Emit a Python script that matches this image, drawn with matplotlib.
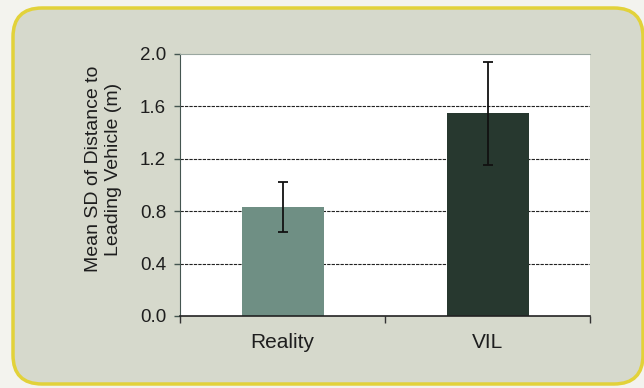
import numpy as np
import matplotlib
matplotlib.use("Agg")
import matplotlib.pyplot as plt
from matplotlib.patches import FancyBboxPatch

plt.rcParams['font.family'] = ['Liberation Sans', 'DejaVu Sans']

# mean SD of distance to the leading vehicle, with error bar ends
conditions = ['Reality', 'VIL']
mean_sd = [0.83, 1.55]
err_low = [0.64, 1.15]
err_high = [1.02, 1.94]
bar_colors = ['#6f8f84', '#27382f']
y_ticks = [0.0, 0.4, 0.8, 1.2, 1.6, 2.0]

W, H = 644, 388
fig = plt.figure(figsize=(W / 100, H / 100), dpi=100)
fig.patch.set_facecolor('#f3f3ee')

# rounded panel behind the chart
panel = FancyBboxPatch((13 / W, 4 / H), 630 / W, 376 / H,
                       boxstyle="round,pad=0,rounding_size=0.045",
                       mutation_aspect=W / H,
                       transform=fig.transFigure,
                       facecolor='#d6d9cc', edgecolor='#e2d23a', linewidth=2.5,
                       zorder=-5)
fig.patches.append(panel)

ax = fig.add_axes([180 / W, 1 - 316 / H, 410 / W, 262 / H])
ax.set_zorder(2)
ax.set_facecolor('white')

x = np.arange(len(conditions))
means = np.array(mean_sd)
yerr = [means - np.array(err_low), np.array(err_high) - means]
ax.bar(x, means, width=0.4, color=bar_colors, zorder=2)
ax.errorbar(x, means, yerr=yerr, fmt='none', ecolor='#111111',
            elinewidth=1.3, capsize=3.5, capthick=1.3, zorder=3)

ax.set_xlim(-0.5, 1.5)
ax.set_ylim(0, 2.0)
ax.set_yticks(y_ticks)
ax.set_yticklabels([f'{v:.1f}' for v in y_ticks], fontsize=13.5, color='#1e1e1e')
for v in y_ticks[1:-1]:
    ax.axhline(v, color='#222222', linestyle=(0, (3, 1)), linewidth=0.8, zorder=1)

# category labels centred, tick marks between categories
ax.set_xticks(x)
ax.set_xticklabels(conditions, fontsize=15, color='#1e1e1e')
ax.tick_params(axis='x', which='major', length=0, pad=12)
ax.set_xticks([-0.5, 0.5, 1.5], minor=True)
ax.tick_params(axis='x', which='minor', length=5, width=1, color='#333333', direction='out')
ax.tick_params(axis='y', length=4, width=1, color='#445550', direction='out', pad=6)

ax.spines['right'].set_visible(False)
ax.spines['top'].set_color('#9aa7a0')
ax.spines['top'].set_linewidth(0.8)
ax.spines['left'].set_color('#445550')
ax.spines['bottom'].set_color('#222222')
ax.spines['bottom'].set_linewidth(1.2)

ax.set_ylabel('Mean SD of Distance to\nLeading Vehicle (m)', fontsize=14,
              color='#1e1e1e', labelpad=13, linespacing=1.25)
ax.yaxis.label.set_y(0.56)

fig.savefig('out.png', dpi=100, facecolor=fig.get_facecolor())
